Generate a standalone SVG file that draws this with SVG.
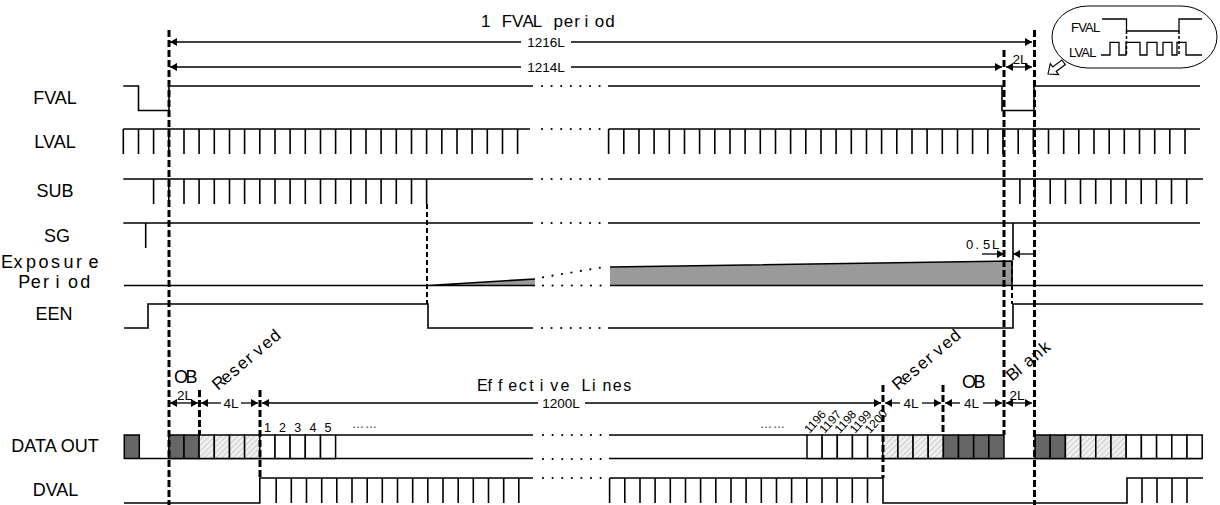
<svg xmlns="http://www.w3.org/2000/svg" width="1220" height="505" viewBox="0 0 1220 505">
<defs>
<style>
.s{fill:none;stroke:#000;stroke-width:1.6}
.d{fill:none;stroke:#000;stroke-width:3;stroke-dasharray:7 3}
.d2{fill:none;stroke:#000;stroke-width:2;stroke-dasharray:5 3}
.id{fill:none;stroke:#000;stroke-width:1.5;stroke-dasharray:3 2}
.dt{fill:none;stroke:#000;stroke-width:2.2;stroke-linecap:round;stroke-dasharray:0 9.6}
.dm{fill:none;stroke:#000;stroke-width:1.3}
.a{marker-end:url(#ar)}
.b{marker-start:url(#ar)}
.ab{marker-start:url(#ar);marker-end:url(#ar)}
text{font-family:"Liberation Sans",Arial,sans-serif;fill:#000}
.L{font-size:18px;text-anchor:middle}
.m{font-size:13.5px}
.c{text-anchor:middle}
.n{font-size:12.5px;text-anchor:middle}
.r{font-size:12px}
.w{font-size:17px}
.w2{font-size:16px}
.w3{font-size:17px}
.box{stroke:#000;stroke-width:1.5}
.dk{fill:#666}
.ht{fill:url(#hatch)}
.wt{fill:#fff}
.sh{fill:#9a9a9a}
</style>
<marker id="ar" viewBox="0 0 7 8" refX="7" refY="4" markerWidth="7" markerHeight="8" markerUnits="userSpaceOnUse" orient="auto-start-reverse"><path d="M0,0 L7,4 L0,8 z" fill="#000"/></marker>
<pattern id="hatch" width="4" height="4" patternUnits="userSpaceOnUse" patternTransform="rotate(45)"><rect width="4" height="4" fill="#f0f0f0"/><line x1="0" y1="0" x2="0" y2="4" stroke="#a8a8a8" stroke-width="1"/></pattern>
</defs>
<rect width="1220" height="505" fill="#fff"/>

<g id="labels">
<text class="L" x="55" y="103.5">FVAL</text>
<text class="L" x="55" y="148">LVAL</text>
<text class="L" x="55" y="197">SUB</text>
<text class="L" x="57" y="241.5">SG</text>
<text style="font-size:18px" x="1 13.5 26 38.5 51 63.5 76 88.5" y="268">Exposure</text>
<text style="font-size:18px" x="18.3 30.7 43.1 55.5 67.9 80.3" y="288">Period</text>
<text class="L" x="54" y="320">EEN</text>
<text class="L" x="55" y="451.5">DATA OUT</text>
<text class="L" x="55.5" y="496">DVAL</text>
</g>

<g id="title">
<text class="w" x="481 491.35 501.7 512.05 522.4 532.75 543.1 553.45 563.8 574.15 584.5 594.85 605.2" y="26.5">1 FVAL period</text>
</g>

<g id="inset">
<rect x="1052" y="6" width="165" height="62" rx="36" ry="31" fill="#fff" stroke="#000" stroke-width="1"/>
<text x="1071" y="31.5" style="font-size:13px;letter-spacing:-0.8px">FVAL</text>
<text x="1069" y="56.5" style="font-size:13px;letter-spacing:-0.8px">LVAL</text>
<path class="s" style="stroke-width:1.3" d="M1102,19 H1126.5 V31 H1179 V19 H1202"/>
<path class="s" style="stroke-width:1.3" d="M1101,55 H1110 V42.3 H1119 V55 H1126 V42.3 H1140 V55 H1147 V42.3 H1157 V55 H1163 V42.3 H1172 V55 H1177 V42.3 H1186 V55 H1202"/>
<path class="id" d="M1126.5,31 V56 M1179,31 V56"/>
<polygon points="0,0 7,-6 7,-2.5 17,-2.5 17,2.5 7,2.5 7,6" transform="translate(1048,74) rotate(-37) scale(1.15)" fill="#fff" stroke="#000" stroke-width="1"/>
</g>

<g id="FVAL">
<path class="s" d="M123.3,86 H138.5 V110.5 H169 V86 H533 M608,86 H1002 V110.5 H1034 V86 H1200"/>
</g>

<g id="LVAL">
<path class="s" d="M123.3,129 H530 M608.6,129 H1200"/>
<path class="s" d="M123.3,129v25 M138.5,129v25 M153.6,129v25 M168.8,129v25 M184,129v25 M199.1,129v25 M214.3,129v25 M229.5,129v25 M244.6,129v25 M259.8,129v25 M275,129v25 M290.1,129v25 M305.3,129v25 M320.5,129v25 M335.6,129v25 M350.8,129v25 M366,129v25 M381.1,129v25 M396.3,129v25 M411.5,129v25 M426.6,129v25 M441.8,129v25 M457,129v25 M472.1,129v25 M487.3,129v25 M502.5,129v25 M517.6,129v25 M608.6,129v25 M623.8,129v25 M639,129v25 M654.1,129v25 M669.3,129v25 M684.5,129v25 M699.6,129v25 M714.8,129v25 M730,129v25 M745.1,129v25 M760.3,129v25 M775.5,129v25 M790.6,129v25 M805.8,129v25 M821,129v25 M836.1,129v25 M851.3,129v25 M866.5,129v25 M881.6,129v25 M896.8,129v25 M912,129v25 M927.1,129v25 M942.3,129v25 M957.5,129v25 M972.6,129v25 M987.8,129v25 M1003,129v25 M1018.2,129v25 M1033.3,129v25 M1048.5,129v25 M1063.7,129v25 M1078.8,129v25 M1094,129v25 M1109.2,129v25 M1124.3,129v25 M1139.5,129v25 M1154.7,129v25 M1169.8,129v25 M1185,129v25"/>
</g>

<g id="SUB">
<path class="s" d="M123.3,179 H533 M608,179 H1203"/>
<path class="s" d="M153.6,179v25 M168.8,179v25 M184,179v25 M199.1,179v25 M214.3,179v25 M229.5,179v25 M244.6,179v25 M259.8,179v25 M275,179v25 M290.1,179v25 M305.3,179v25 M320.5,179v25 M335.6,179v25 M350.8,179v25 M366,179v25 M381.1,179v25 M396.3,179v25 M411.5,179v25 M426.6,179v25 M1019.9,179v25 M1035,179v25 M1050.2,179v25 M1065.4,179v25 M1080.5,179v25 M1095.7,179v25 M1110.9,179v25 M1126,179v25 M1141.2,179v25 M1156.4,179v25 M1171.5,179v25 M1186.7,179v25"/>
</g>

<g id="SG">
<path class="s" d="M123.3,223 H533 M608,223 H1200 M145.7,223 V248 M1013,223 V260"/>
</g>

<g id="Exposure">
<polygon class="sh" points="428,285.5 535,279 535,285.5"/>
<polygon class="sh" points="610,267 1012,261 1012,285.5 610,285.5"/>
<path class="s" d="M124,285.5 H535 M428,285.5 L535,279 M610,267 L1012,261 V285.5 M610,285.5 H1203"/>
</g>

<g id="EEN">
<path class="s" d="M124,328 H148 V304 H428 V328 H533 M608,328 H1013 V304 H1203"/>
</g>

<g id="DATAOUT">
<path class="s" d="M139,458.5 H533 M335.6,435 H533 M609,435 H807 M609,458.5 H1202"/>
<g class="box">
<rect class="dk" x="124.3" y="435" width="15" height="23.5"/>
<rect class="dk" x="168.8" y="435" width="15.2" height="23.5"/>
<rect class="dk" x="184" y="435" width="15.1" height="23.5"/>
<rect class="ht" x="199.1" y="435" width="15.2" height="23.5"/>
<rect class="ht" x="214.3" y="435" width="15.2" height="23.5"/>
<rect class="ht" x="229.5" y="435" width="15.1" height="23.5"/>
<rect class="ht" x="244.6" y="435" width="15.2" height="23.5"/>
<rect class="wt" x="259.8" y="435" width="15.2" height="23.5"/>
<rect class="wt" x="275" y="435" width="15.1" height="23.5"/>
<rect class="wt" x="290.1" y="435" width="15.2" height="23.5"/>
<rect class="wt" x="305.3" y="435" width="15.2" height="23.5"/>
<rect class="wt" x="320.5" y="435" width="15.1" height="23.5"/>
<rect class="wt" x="807" y="435" width="15.15" height="23.5"/>
<rect class="wt" x="822.15" y="435" width="15.15" height="23.5"/>
<rect class="wt" x="837.3" y="435" width="15.15" height="23.5"/>
<rect class="wt" x="852.45" y="435" width="15.15" height="23.5"/>
<rect class="wt" x="867.6" y="435" width="15.15" height="23.5"/>
<rect class="ht" x="882.75" y="435" width="15.15" height="23.5"/>
<rect class="ht" x="897.9" y="435" width="15.15" height="23.5"/>
<rect class="ht" x="913.05" y="435" width="15.15" height="23.5"/>
<rect class="ht" x="928.2" y="435" width="15.15" height="23.5"/>
<rect class="dk" x="943.35" y="435" width="15.15" height="23.5"/>
<rect class="dk" x="958.5" y="435" width="15.15" height="23.5"/>
<rect class="dk" x="973.65" y="435" width="15.15" height="23.5"/>
<rect class="dk" x="988.8" y="435" width="15.15" height="23.5"/>
<rect class="dk" x="1035" y="435" width="15.2" height="23.5"/>
<rect class="dk" x="1050.2" y="435" width="15.2" height="23.5"/>
<rect class="ht" x="1065.4" y="435" width="15.2" height="23.5"/>
<rect class="ht" x="1080.6" y="435" width="15.2" height="23.5"/>
<rect class="ht" x="1095.8" y="435" width="15.2" height="23.5"/>
<rect class="ht" x="1111" y="435" width="15.2" height="23.5"/>
<rect class="wt" x="1126.2" y="435" width="15.2" height="23.5"/>
<rect class="wt" x="1141.4" y="435" width="15.2" height="23.5"/>
<rect class="wt" x="1156.6" y="435" width="15.2" height="23.5"/>
<rect class="wt" x="1171.8" y="435" width="15.2" height="23.5"/>
<rect class="wt" x="1187" y="435" width="15.2" height="23.5"/>
</g>
<text class="n" x="267.4" y="432">1</text>
<text class="n" x="282.5" y="432">2</text>
<text class="n" x="297.7" y="432">3</text>
<text class="n" x="312.9" y="432">4</text>
<text class="n" x="328" y="432">5</text>
<text x="352" y="428" style="font-size:12px;letter-spacing:1px;fill:#333">……</text>
<text x="760" y="428" style="font-size:12px;letter-spacing:1px;fill:#333">……</text>
<text class="r" transform="translate(809.5,434) rotate(-48)">1196</text>
<text class="r" transform="translate(824.6,434) rotate(-48)">1197</text>
<text class="r" transform="translate(839.8,434) rotate(-48)">1198</text>
<text class="r" transform="translate(855,434) rotate(-48)">1199</text>
<text class="r" transform="translate(870.1,434) rotate(-48)">1200</text>
</g>

<g id="DVAL">
<path class="s" d="M124,503 H259.8 V478 H533 M609.6,478 H883 V503 H1127 V478 H1203"/>
<path class="s" d="M276.2,478v25 M291.3,478v25 M306.5,478v25 M321.7,478v25 M336.8,478v25 M352,478v25 M367.2,478v25 M382.3,478v25 M397.5,478v25 M412.7,478v25 M427.8,478v25 M443,478v25 M458.2,478v25 M473.3,478v25 M488.5,478v25 M503.7,478v25 M518.8,478v25 M609.6,478v25 M624.8,478v25 M640,478v25 M655.1,478v25 M670.3,478v25 M685.5,478v25 M700.6,478v25 M715.8,478v25 M731,478v25 M746.1,478v25 M761.3,478v25 M776.5,478v25 M791.6,478v25 M806.8,478v25 M822,478v25 M837.1,478v25 M852.3,478v25 M867.5,478v25 M1142,478v25 M1157,478v25 M1172,478v25 M1187,478v25"/>
</g>

<g id="annotations">
<text style="font-size:18px;letter-spacing:-2.5px" x="174" y="383">OB</text>
<text style="font-size:18px;letter-spacing:-2.5px" x="962" y="388">OB</text>
<text class="w3" transform="translate(218,391) rotate(-40)" x="0 10.6 21.2 31.8 42.4 53 63.6 74.2" y="0">Reserved</text>
<text class="w3" transform="translate(898,391) rotate(-40)" x="0 10.6 21.2 31.8 42.4 53 63.6 74.2" y="0">Reserved</text>
<text class="w3" transform="translate(1012,382) rotate(-40)" x="0 10.8 21.6 32.4 43.2" y="0">Blank</text>
<text class="w2" x="477 487.45 497.9 508.35 518.8 529.25 539.7 550.15 560.6 571.05 581.5 591.95 602.4 612.85 623.3" y="390.5">Effective Lines</text>
<text style="font-size:13px" x="966 975.5 983 992" y="249">0.5L</text>
</g>

<g id="connectors">
<path class="d" d="M169,30 V505 M1034.5,30 V505 M1004,50 V435 M199.5,390 V435 M260,390 V478 M883,385 V478 M943,385 V435"/>
<path class="d2" d="M427,204 V304 M1012,261 V304"/>
<path class="dt" d="M542,86 H601 M542,129 H601 M542,179 H601 M542,223 H601 M543,285.5 H601 M543,277.3 L600,267.7 M542,328 H601 M543,435 H601 M543,459 H601 M543,478 H601"/>
<line class="dm b" x1="170" y1="42" x2="521" y2="42"/>
<line class="dm a" x1="571" y1="42" x2="1032" y2="42"/>
<text class="m c" x="546" y="46.5">1216L</text>
<line class="dm b" x1="170" y1="67" x2="521" y2="67"/>
<line class="dm a" x1="571" y1="67" x2="1002" y2="67"/>
<text class="m c" x="546" y="71.5">1214L</text>
<line class="dm ab" x1="1006" y1="67" x2="1032" y2="67"/>
<text class="m c" x="1020" y="64">2L</text>
<line class="dm a" x1="982" y1="254" x2="1004" y2="254"/>
<line class="dm a" x1="1035" y1="254" x2="1013" y2="254"/>
<line class="dm ab" x1="170" y1="403" x2="198" y2="403"/>
<text class="m c" x="184.5" y="400">2L</text>
<line class="dm b" x1="201" y1="403" x2="221" y2="403"/>
<line class="dm a" x1="241" y1="403" x2="258" y2="403"/>
<text class="m c" x="231" y="408">4L</text>
<line class="dm b" x1="262" y1="403" x2="538" y2="403"/>
<line class="dm a" x1="585" y1="403" x2="881" y2="403"/>
<text class="m c" x="561" y="408">1200L</text>
<line class="dm b" x1="885" y1="403" x2="900" y2="403"/>
<line class="dm a" x1="922" y1="403" x2="941" y2="403"/>
<text class="m c" x="911" y="408">4L</text>
<line class="dm b" x1="945" y1="403" x2="960" y2="403"/>
<line class="dm a" x1="983" y1="403" x2="1002" y2="403"/>
<text class="m c" x="971.5" y="408">4L</text>
<line class="dm ab" x1="1006" y1="403" x2="1032" y2="403"/>
<text class="m c" x="1017" y="400">2L</text>
</g>
</svg>
